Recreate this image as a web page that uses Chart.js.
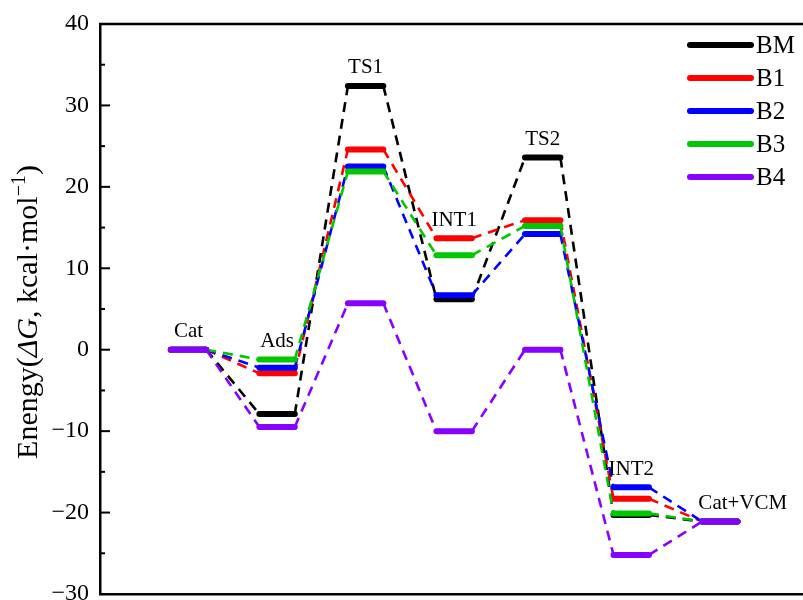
<!DOCTYPE html>
<html>
<head>
<meta charset="utf-8">
<script src="https://cdn.jsdelivr.net/npm/chart.js@4.4.1/dist/chart.umd.min.js"></script>
<style>
  html, body { margin: 0; padding: 0; background: #fff; overflow: hidden; }
  #wrap { width: 803px; height: 600px; }
</style>
</head>
<body>
<div id="wrap"><canvas id="myChart"></canvas></div>
<script>
// reaction states along the path
let states = ['Cat', 'Ads', 'TS1', 'INT1', 'TS2', 'INT2', 'Cat+VCM']

// free energies (kcal/mol)
let energyBM = [0, -7.9, 32.4, 6.2, 23.6, -20.3, -21.1]
let energyB1 = [0, -2.9, 24.6, 13.7, 15.9, -18.3, -21.1]
let energyB2 = [0, -2.2, 22.5, 6.7, 14.2, -16.9, -21.1]
let energyB3 = [0, -1.2, 21.9, 11.6, 15.2, -20.1, -21.1]
let energyB4 = [0, -9.5, 5.7, -10.0, 0, -25.2, -21.1]

let seriesNames = ['BM', 'B1', 'B2', 'B3', 'B4']
let seriesValues = [energyBM, energyB1, energyB2, energyB3, energyB4]
let seriesColors = ['#000000', '#ff0000', '#0000ff', '#00c800', '#8800ff']

let yTicks = [-30, -20, -10, 0, 10, 20, 30, 40]

let halfLevel = 0.2
let serif = '"Liberation Serif", "Times New Roman", serif'

// each state becomes a short flat level, connected by dashed lines
function levelPoints(values) {
    let pts = []
    for (let i = 0; i < values.length; i++) {
        pts.push({ x: i - halfLevel, y: values[i] })
        pts.push({ x: i + halfLevel, y: values[i] })
    }
    return pts
}

let datasets = seriesNames.map((name, k) => ({
    label: name,
    data: levelPoints(seriesValues[k]),
    borderColor: seriesColors[k],
    backgroundColor: seriesColors[k],
    pointRadius: 0,
    borderWidth: 6,
    fill: false,
    tension: 0,
    order: seriesNames.length - 1 - k,
    segment: {
        borderWidth: ctx => ctx.p0DataIndex % 2 ? 2.6 : 6,
        borderDash: ctx => ctx.p0DataIndex % 2 ? [10, 7] : [],
        borderCapStyle: ctx => ctx.p0DataIndex % 2 ? 'butt' : 'round',
    },
}))

let decorations = {
    id: 'decorations',
    afterDraw(chart) {
        let ctx = chart.ctx
        let area = chart.chartArea
        let xs = chart.scales.x
        let ys = chart.scales.y
        ctx.save()

        // top frame line
        ctx.strokeStyle = '#000'
        ctx.lineWidth = 2.5
        ctx.beginPath()
        ctx.moveTo(area.left - 1, area.top)
        ctx.lineTo(area.right, area.top)
        ctx.stroke()

        // inward ticks on the y axis
        ctx.lineWidth = 2
        for (let v = -30; v <= 40; v += 5) {
            let py = ys.getPixelForValue(v)
            let len = v % 10 === 0 ? 10 : 5
            ctx.beginPath()
            ctx.moveTo(area.left, py)
            ctx.lineTo(area.left + len, py)
            ctx.stroke()
        }

        // state labels above the highest level
        ctx.fillStyle = '#000'
        ctx.textAlign = 'center'
        ctx.textBaseline = 'middle'
        for (let i = 0; i < states.length; i++) {
            let top = Math.max(...seriesValues.map(s => s[i]))
            let dx = i === states.length - 1 ? 0.26 : 0
            ctx.font = '21px ' + serif
            ctx.fillText(states[i], xs.getPixelForValue(i + dx), ys.getPixelForValue(top + 2.2))
        }

        // legend
        ctx.font = '25px ' + serif
        ctx.textAlign = 'left'
        for (let k = 0; k < seriesNames.length; k++) {
            let ly = 45 + k * 33
            ctx.strokeStyle = seriesColors[k]
            ctx.lineWidth = 6
            ctx.lineCap = 'round'
            ctx.beginPath()
            ctx.moveTo(690, ly)
            ctx.lineTo(751, ly)
            ctx.stroke()
            ctx.fillStyle = '#000'
            ctx.fillText(seriesNames[k], 756, ly + 1)
        }

        // y axis title with italic ΔG and superscript
        let parts = [
            { t: 'Enengy(', f: '30px ' + serif, dy: 0 },
            { t: 'ΔG', f: 'italic 30px ' + serif, dy: 0 },
            { t: ', kcal·mol', f: '30px ' + serif, dy: 0 },
            { t: '−1', f: '20px ' + serif, dy: -12 },
            { t: ')', f: '30px ' + serif, dy: 0 },
        ]
        let total = 0
        parts.forEach(p => { ctx.font = p.f; p.w = ctx.measureText(p.t).width; total += p.w })
        ctx.translate(37, 312)
        ctx.rotate(-Math.PI / 2)
        ctx.textBaseline = 'alphabetic'
        let x = -total / 2
        parts.forEach(p => {
            ctx.font = p.f
            ctx.fillText(p.t, x, p.dy)
            x += p.w
        })
        ctx.restore()
    }
}

let config = {
    type: 'line',
    data: { datasets },
    options: {
        responsive: true,
        maintainAspectRatio: false,
        animation: false,
        layout: { padding: { top: 24, right: 0, left: 0, bottom: 0 } },
        plugins: {
            legend: { display: false },
            tooltip: { enabled: false },
        },
        scales: {
            x: {
                type: 'linear',
                min: -1,
                max: 6.94,
                ticks: { display: false },
                grid: { drawOnChartArea: false, drawTicks: false },
                border: { display: true, color: '#000', width: 2.5 },
                afterFit: scale => { scale.height = 6 },
            },
            y: {
                min: -30,
                max: 40,
                afterBuildTicks: scale => { scale.ticks = yTicks.map(v => ({ value: v })) },
                ticks: {
                    color: '#000',
                    padding: 11,
                    font: { family: serif, size: 24 },
                    callback: value => String(value).replace('-', '\u2212'),
                },
                grid: { drawOnChartArea: false, drawTicks: false },
                border: { display: true, color: '#000', width: 2.5 },
                afterFit: scale => {
                    scale.width = 100
                    scale.paddingTop = 0
                    scale.paddingBottom = 0
                },
            },
        },
    },
    plugins: [decorations],
}

let myChart = new Chart(document.getElementById('myChart').getContext('2d'), config)
</script>
</body>
</html>
